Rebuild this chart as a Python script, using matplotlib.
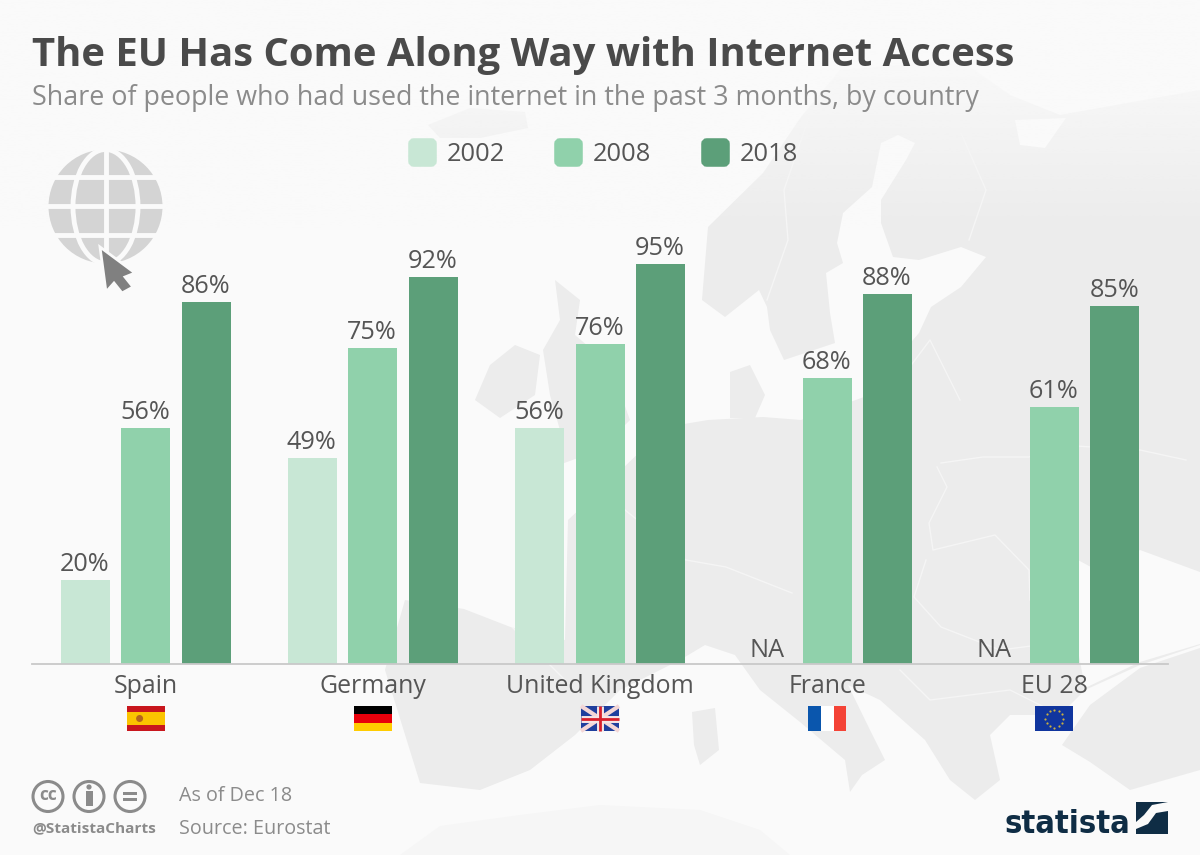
import numpy as np
import matplotlib
matplotlib.use('Agg')
import matplotlib.pyplot as plt
from matplotlib.patches import Circle, Ellipse, FancyBboxPatch, Polygon, Rectangle

# Chart values (nan = not available)
countries = ['Spain', 'Germany', 'United Kingdom', 'France', 'EU 28']
years = ['2002', '2008', '2018']
share_2002 = [20, 49, 56, np.nan, np.nan]
share_2008 = [56, 75, 76, 68, 61]
share_2018 = [86, 92, 95, 88, 85]
colors = ['#c8e7d5', '#90d1ab', '#5c9f79']

TEXT = '#555555'
GREY = '#8b8b8b'
BG = '#fafafa'
LAND = '#ececec'

plt.rcParams['font.family'] = ['Open Sans', 'DejaVu Sans']

fig = plt.figure(figsize=(12, 8.55), dpi=100, facecolor=BG)

# Full-figure axes in pixels for the background map and the decorations
bg = fig.add_axes([0, 0, 1, 1], zorder=0)
bg.set_xlim(0, 1200)
bg.set_ylim(855, 0)
bg.axis('off')

# Rough outline of Europe behind the bars
mainland = [(801, 117), (840, 70), (960, 60), (1010, 95), (1060, 115), (1200, 90), (1200, 645),
            (1140, 665), (1085, 690), (1060, 715), (1010, 715), (990, 735), (1000, 780), (975, 800),
            (950, 780), (925, 740), (880, 700), (848, 685), (870, 730), (885, 760), (862, 775),
            (850, 792), (845, 760), (800, 722), (760, 690), (735, 655), (705, 645), (680, 660),
            (620, 690), (575, 735), (530, 770), (480, 790), (420, 783), (385, 670), (405, 600),
            (464, 609), (513, 628), (565, 640), (568, 520), (600, 490), (666, 427), (708, 420),
            (763, 417), (801, 420), (864, 397), (919, 333), (931, 307), (961, 287), (986, 257),
            (961, 247), (919, 260), (893, 257), (881, 223), (881, 200), (906, 160), (915, 143),
            (898, 135), (881, 143), (872, 187), (843, 213), (837, 243), (843, 263), (826, 273),
            (830, 313), (835, 343), (784, 360), (770, 330), (767, 307), (759, 290), (725, 317),
            (702, 300), (708, 227), (763, 173)]
bg.add_patch(Polygon(mainland, fc=LAND, ec='none'))
islands = [
    [(475, 400), (490, 365), (515, 345), (540, 355), (535, 395), (500, 418)],
    [(555, 280), (580, 300), (575, 335), (610, 365), (630, 420), (600, 450), (545, 470), (520, 465),
     (560, 430), (550, 395), (543, 350), (560, 320)],
    [(730, 372), (750, 365), (765, 395), (755, 418), (730, 418)],
    [(692, 712), (715, 708), (719, 750), (700, 765), (694, 745)],
    [(1090, 705), (1140, 668), (1200, 648), (1200, 770), (1130, 790), (1090, 762), (1062, 745)],
    [(428, 125), (470, 108), (525, 112), (528, 128), (480, 138), (440, 138)],
]
for isl in islands:
    bg.add_patch(Polygon(isl, fc=LAND, ec='none'))
# Sea cut-outs and the pale African coast
bg.add_patch(Polygon([(1078, 560), (1100, 572), (1140, 550), (1200, 572), (1200, 644), (1140, 662),
                      (1085, 688), (1076, 640)], fc=BG, ec='none'))
bg.add_patch(Polygon([(1015, 120), (1066, 118), (1045, 148), (1020, 145)], fc=BG, ec='none'))
bg.add_patch(Polygon([(400, 855), (440, 826), (520, 815), (600, 805), (700, 810), (760, 830), (790, 855)],
                     fc='#f6f6f6', ec='none'))

# Country borders, thin white lines
borders = [
    [(809, 117), (784, 190), (788, 240), (767, 300)],
    [(961, 133), (986, 190), (969, 240)],
    [(941, 463), (983, 457), (1029, 457), (1060, 445), (1140, 450), (1186, 460)],
    [(937, 467), (947, 487), (929, 523), (933, 550), (995, 535), (1029, 570), (1030, 600)],
    [(926, 560), (914, 597), (941, 627), (1000, 650), (1078, 640)],
    [(686, 560), (726, 567), (792, 593)],
    [(600, 490), (650, 530), (686, 560)],
    [(513, 628), (565, 680)],
    [(900, 670), (930, 700), (1010, 690), (1060, 715)],
    [(885, 400), (930, 340), (960, 400)],
]
for line in borders:
    xs, ys = zip(*line)
    bg.plot(xs, ys, color='#f5f5f5', lw=1)

# Map fades out towards the top
fade = np.ones((100, 2, 4))
fade[:, :, :3] = matplotlib.colors.to_rgb(BG)
fade[:, :, 3] = np.clip(np.linspace(1.3, 0, 100), 0, 1)[:, None]
bg.imshow(fade, extent=(0, 1200, 230, 0), aspect='auto', zorder=1.5)
bg.set_xlim(0, 1200)
bg.set_ylim(855, 0)

# Bars, in their own axes so the values go through the scale
chart = fig.add_axes([32 / 1200, (855 - 664) / 855, 1136 / 1200, 421 / 855], zorder=2)
chart.patch.set_alpha(0)
x = np.arange(len(countries))
bar_w = 49 / 227.2
step = 60.5 / 227.2
for i, (vals, col) in enumerate(zip([share_2002, share_2008, share_2018], colors)):
    pos = x + (i - 1) * step
    chart.bar(pos, vals, width=bar_w, color=col, zorder=2)
    for p, v in zip(pos, vals):
        if np.isnan(v):
            chart.annotate('NA', (p, 0), xytext=(0, 1), textcoords='offset points',
                           ha='center', va='bottom', fontsize=18.2, color=TEXT)
        else:
            chart.annotate(f'{v}%', (p, v), xytext=(-0.5, 2), textcoords='offset points',
                           ha='center', va='bottom', fontsize=18.2, color=TEXT)
chart.set_xlim(-0.5, len(countries) - 0.5)
chart.set_ylim(0, 100)
chart.set_xticks(x, countries)
chart.set_yticks([])
chart.tick_params(axis='x', length=0, pad=7.5, labelsize=17.9, labelcolor=TEXT)
for side in ['top', 'left', 'right']:
    chart.spines[side].set_visible(False)
chart.spines['bottom'].set_color('#c9c9c9')
chart.spines['bottom'].set_linewidth(1.3)

# Title and subtitle
bg.text(32, 66, 'The EU Has Come Along Way with Internet Access', fontsize=28.85, fontweight='bold',
        color='#4a4a4a', va='baseline', ha='left')
bg.text(32, 105, 'Share of people who had used the internet in the past 3 months, by country',
        fontsize=19.4, color=GREY, va='baseline', ha='left')

# Legend
for lx, year, col in zip([408, 554, 701], years, colors):
    bg.add_patch(FancyBboxPatch((lx + 3, 141), 23, 23, boxstyle='round,pad=0,rounding_size=3',
                                mutation_aspect=1, fc=col, ec=col, lw=4, zorder=3))
    bg.text(lx + 39, 154.5, year, fontsize=18.4, color=TEXT, va='center', ha='left')

# Globe with cursor
gx, gy, gr = 105.5, 206.5, 57
bg.add_patch(Circle((gx, gy), gr, fc='#d4d4d4', ec='none', zorder=2))
bg.add_patch(Ellipse((gx, gy), 65, 2 * gr, fc='none', ec=BG, lw=3.5, zorder=2.1))
bg.plot([gx, gx], [gy - gr, gy + gr], color=BG, lw=3.5, zorder=2.1)
for gl in [177, 206.5, 235]:
    bg.plot([gx - gr, gx + gr], [gl, gl], color=BG, lw=3.5, zorder=2.1)
cursor = [(100, 247), (135, 273), (125, 277), (133, 287), (122, 293), (114, 283), (106, 292)]
bg.add_patch(Polygon(cursor, fc='#808080', ec=BG, lw=2, joinstyle='miter', zorder=3))

# Flags
fw, fh, fy = 38, 25, 706
centers = [145.6 + 227.2 * i for i in range(len(countries))]


def flag_bands(cx, bands, vertical=False):
    # stripes given as (share, colour), drawn across the flag
    start = 0
    for share, col in bands:
        if vertical:
            bg.add_patch(Rectangle((cx - fw / 2 + start * fw, fy), share * fw, fh, fc=col, ec='none', zorder=3))
        else:
            bg.add_patch(Rectangle((cx - fw / 2, fy + start * fh), fw, share * fh, fc=col, ec='none', zorder=3))
        start += share


flag_bands(centers[0], [(0.25, '#c8161d'), (0.5, '#fbc400'), (0.25, '#c8161d')])
bg.add_patch(Circle((centers[0] - 6, fy + 12.5), 3.5, fc='#b5651d', ec='none', zorder=4))
flag_bands(centers[1], [(1 / 3, '#000000'), (1 / 3, '#e8000b'), (1 / 3, '#ffcc00')])
# Union Jack
cx = centers[2]
bg.add_patch(Rectangle((cx - fw / 2, fy), fw, fh, fc='#1f3f9e', ec='none', zorder=3))
bg.plot([cx - fw / 2, cx + fw / 2], [fy, fy + fh], color='#f3d6d6', lw=3, zorder=3.1, solid_capstyle='butt')
bg.plot([cx - fw / 2, cx + fw / 2], [fy + fh, fy], color='#f3d6d6', lw=3, zorder=3.1, solid_capstyle='butt')
bg.plot([cx, cx], [fy, fy + fh], color='#f5e5e5', lw=5, zorder=3.2, solid_capstyle='butt')
bg.plot([cx - fw / 2, cx + fw / 2], [fy + fh / 2, fy + fh / 2], color='#f5e5e5', lw=5, zorder=3.2, solid_capstyle='butt')
bg.plot([cx, cx], [fy, fy + fh], color='#d8202c', lw=2, zorder=3.3, solid_capstyle='butt')
bg.plot([cx - fw / 2, cx + fw / 2], [fy + fh / 2, fy + fh / 2], color='#d8202c', lw=2, zorder=3.3, solid_capstyle='butt')
flag_bands(centers[3], [(1 / 3, '#0a56ad'), (1 / 3, '#ffffff'), (1 / 3, '#f44336')], vertical=True)
# EU flag with its ring of stars
cx = centers[4]
bg.add_patch(Rectangle((cx - fw / 2, fy), fw, fh, fc='#10359e', ec='none', zorder=3))
ang = np.linspace(0, 2 * np.pi, 12, endpoint=False)
bg.scatter(cx + 9 * np.cos(ang), fy + 12.5 + 9 * np.sin(ang), s=2.5, color='#c9b040', zorder=4, linewidths=0)

# Licence badges
for cc_x in [48, 89, 130]:
    bg.add_patch(Circle((cc_x, 796.5), 15, fc='none', ec=GREY, lw=2.2))
bg.text(48, 795, 'cc', fontsize=12.5, fontweight='bold', color=GREY, ha='center', va='center')
bg.add_patch(Circle((89, 787), 2.6, fc=GREY, ec='none'))
bg.add_patch(Rectangle((85.5, 791), 7, 15, fc=GREY, ec='none'))
bg.add_patch(Rectangle((123, 791.5), 14, 3.4, fc=GREY, ec='none'))
bg.add_patch(Rectangle((123, 798), 14, 3.4, fc=GREY, ec='none'))
bg.text(32, 828, '@StatistaCharts', fontsize=11.1, fontweight='bold', color=GREY, ha='left', va='center')
bg.text(179, 796, 'As of Dec 18', fontsize=14.2, color=GREY, ha='left', va='center')
bg.text(179, 829, 'Source: Eurostat', fontsize=14.2, color=GREY, ha='left', va='center')

# Statista logo
NAVY = '#0f2d45'
bg.text(1005, 833, 'statista', fontsize=23.4, fontweight='bold', color=NAVY, ha='left', va='baseline',
        family='DejaVu Sans', stretch='condensed')
bg.add_patch(Rectangle((1136, 802), 32, 32, fc=NAVY, ec='none'))
bg.add_patch(Polygon([(1168, 802), (1168, 811), (1156, 813), (1148, 824), (1136, 829), (1136, 822),
                      (1144, 815), (1152, 805)], fc=BG, ec='none', zorder=3))

fig.savefig('out.png', dpi=100, facecolor=fig.get_facecolor())
